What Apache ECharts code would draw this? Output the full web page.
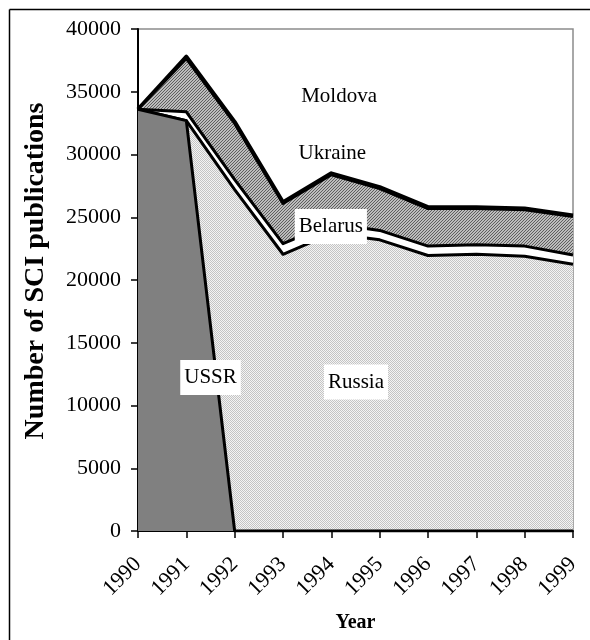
<!DOCTYPE html>
<html><head><meta charset="utf-8">
<script src="https://cdn.jsdelivr.net/npm/echarts@6/dist/echarts.min.js"></script>
<style>html,body{margin:0;padding:0;background:#fff}#c{width:590px;height:640px}</style>
</head><body><div id="c"></div>
<script>
const years = ['1990','1991','1992','1993','1994','1995','1996','1997','1998','1999'];
const ussr    = [33600, 32700, 0, 0, 0, 0, 0, 0, 0, 0];
const russia  = [0, 0, 27200, 22050, 23700, 23200, 21950, 22050, 21900, 21250];
const belarus = [0, 700, 800, 850, 800, 750, 750, 750, 800, 750];
const ukraine = [0, 4250, 4480, 3190, 3880, 3330, 2990, 2890, 2890, 3050];
const moldova = [0, 150, 120, 110, 120, 120, 110, 110, 110, 100];
const yMin = 0, yMax = 40000, yStep = 5000;
// annotation labels: text, category index position, value, boxed
const labelTexts = ['Moldova', 'Ukraine', 'Belarus', 'USSR', 'Russia'];
const labelIdx   = [4.16, 4.02, 3.99, 1.50, 4.51];
const labelVal   = [34660, 30080, 24260, 12230, 11870];
const labelBoxed = [false, false, true, true, true];

function pattern(w, h, draw) {
  const c = document.createElement('canvas');
  c.width = w; c.height = h;
  draw(c.getContext('2d'));
  return c;
}
const dotPat = pattern(2, 2, g => {
  g.fillStyle = '#f4f4f4'; g.fillRect(0, 0, 2, 2);
  g.fillStyle = '#c4c4c4'; g.fillRect(0, 0, 1, 1); g.fillRect(1, 1, 1, 1);
});
const hatchPat = pattern(3, 3, g => {
  g.fillStyle = '#bcbcbc'; g.fillRect(0, 0, 3, 3);
  g.fillStyle = '#5e5e5e'; g.fillRect(0, 2, 1, 1); g.fillRect(1, 1, 1, 1); g.fillRect(2, 0, 1, 1);
});

const FONT = '"Liberation Serif", "Times New Roman", serif';
function mk(name, data, fill, z, lw) {
  return {
    name, type: 'line', stack: 'total', data, z,
    symbol: 'none', smooth: false,
    lineStyle: { color: '#000', width: lw, join: 'round' },
    areaStyle: { color: fill, opacity: 1 },
    emphasis: { disabled: true }
  };
}

const chart = echarts.init(document.getElementById('c'));
chart.setOption({
  animation: false,
  backgroundColor: '#fff',
  grid: { left: 138, right: 17, top: 29, bottom: 109, show: true, borderColor: '#8c8c8c', borderWidth: 1.5, backgroundColor: 'transparent' },
  xAxis: {
    type: 'category', data: years, boundaryGap: false,
    name: 'Year', nameLocation: 'middle', nameGap: 82,
    nameTextStyle: { fontFamily: FONT, fontSize: 20, fontWeight: 'bold', color: '#000' },
    axisLine: { lineStyle: { color: '#000', width: 2 } },
    axisTick: { show: true, length: 7, lineStyle: { color: '#000', width: 1.5 } },
    axisLabel: { rotate: 45, fontFamily: FONT, fontSize: 22, color: '#000', margin: 30 },
    splitLine: { show: false }
  },
  yAxis: {
    type: 'value', min: yMin, max: yMax, interval: yStep,
    name: 'Number of SCI publications', nameLocation: 'middle', nameGap: 88,
    nameTextStyle: { fontFamily: FONT, fontSize: 28, fontWeight: 'bold', color: '#000', padding: [0, 0, 0, 18] },
    axisLine: { show: true, lineStyle: { color: '#000', width: 2 } },
    axisTick: { show: true, length: 7, lineStyle: { color: '#000', width: 1.5 } },
    axisLabel: { fontFamily: FONT, fontSize: 22, color: '#000', margin: 17, formatter: v => String(v) },
    splitLine: { show: false }
  },
  series: [
    mk('USSR', ussr, '#808080', 10, 3),
    mk('Russia', russia, { image: dotPat, repeat: 'repeat' }, 9, 3),
    mk('Belarus', belarus, '#ffffff', 8, 3),
    mk('Ukraine', ukraine, { image: hatchPat, repeat: 'repeat' }, 7, 3),
    mk('Moldova', moldova, '#ffffff', 6, 4)
  ]
});

function toPx(idx, val) {
  const i0 = Math.floor(idx), i1 = Math.min(i0 + 1, years.length - 1);
  const p0 = chart.convertToPixel({ xAxisIndex: 0, yAxisIndex: 0 }, [i0, val]);
  const p1 = chart.convertToPixel({ xAxisIndex: 0, yAxisIndex: 0 }, [i1, val]);
  const f = idx - i0;
  return [p0[0] + (p1[0] - p0[0]) * f, p0[1]];
}
const graphics = labelTexts.map((t, k) => {
  const p = toPx(labelIdx[k], labelVal[k]);
  return {
    type: 'text', x: p[0], y: p[1], z: 100,
    style: {
      text: t, fill: '#000', fontFamily: FONT, fontSize: 21,
      align: 'center', verticalAlign: 'middle',
      backgroundColor: labelBoxed[k] ? '#fff' : 'transparent',
      padding: labelBoxed[k] ? [7, 4] : 0
    }
  };
});
graphics.push({ type: 'line', z: 100, shape: { x1: 9.5, y1: 9.5, x2: 9.5, y2: 640 }, style: { stroke: '#000', lineWidth: 1.5 } });
graphics.push({ type: 'line', z: 100, shape: { x1: 9.5, y1: 9.5, x2: 590, y2: 9.5 }, style: { stroke: '#000', lineWidth: 1.5 } });
chart.setOption({ graphic: graphics });
</script>
</body></html>
